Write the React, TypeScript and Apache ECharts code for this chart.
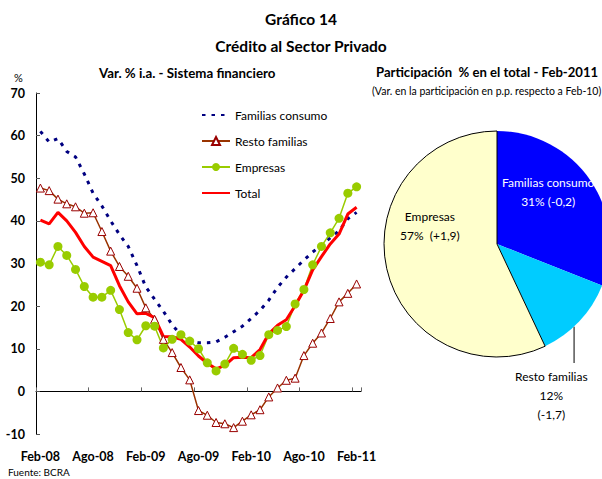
import React, { useEffect, useRef } from "react";
import * as echarts from "echarts";

const FONT = "Lato, 'Open Sans', 'DejaVu Sans', sans-serif";

const months = [
  "Feb-08", "Mar-08", "Abr-08", "May-08", "Jun-08", "Jul-08", "Ago-08", "Sep-08", "Oct-08", "Nov-08", "Dic-08", "Ene-09",
  "Feb-09", "Mar-09", "Abr-09", "May-09", "Jun-09", "Jul-09", "Ago-09", "Sep-09", "Oct-09", "Nov-09", "Dic-09", "Ene-10",
  "Feb-10", "Mar-10", "Abr-10", "May-10", "Jun-10", "Jul-10", "Ago-10", "Sep-10", "Oct-10", "Nov-10", "Dic-10", "Ene-11",
  "Feb-11",
];

const familiasConsumo = [
  61.0, 58.5, 59.3, 56.3, 55.0, 51.0, 46.5, 43.5, 40.0, 36.8, 34.0, 29.5,
  24.5, 21.6, 18.8, 15.6, 13.3, 11.8, 11.4, 11.4, 11.6, 12.7, 14.0, 15.3,
  17.1, 19.0, 21.4, 24.4, 26.8, 28.8, 30.8, 32.7, 34.3, 36.0, 37.7, 40.5,
  42.0,
];

const restoFamilias = [
  47.7, 47.1, 45.1, 44.0, 43.3, 41.8, 41.9, 37.5, 32.9, 29.3, 27.0, 24.2,
  19.6, 16.9, 12.2, 9.1, 5.6, 2.7, -4.5, -5.6, -7.3, -7.6, -8.5, -7.0,
  -5.5, -4.3, -1.3, 0.8, 2.6, 3.1, 8.4, 11.3, 13.7, 17.1, 21.0, 23.0,
  25.2,
];

const empresas = [
  30.3, 29.7, 34.0, 31.9, 28.6, 24.6, 22.1, 22.1, 23.7, 19.2, 13.8, 12.1,
  15.4, 15.3, 10.2, 12.2, 13.3, 11.8, 10.0, 6.7, 4.8, 6.4, 10.1, 8.7,
  7.3, 8.4, 13.3, 14.3, 15.2, 20.5, 23.9, 29.7, 34.0, 37.2, 40.6, 46.5,
  48.0,
];

const total = [
  40.2, 39.3, 42.0, 40.0, 37.3, 34.0, 31.5, 30.5, 29.5, 24.8, 21.0, 18.2,
  18.3, 17.3, 12.9, 12.8, 12.2, 10.4, 8.3, 6.6, 5.3, 6.1, 7.9, 8.0,
  7.9, 9.8, 13.5, 15.5, 16.8, 20.1, 23.7, 28.5, 31.6, 34.6, 36.9, 41.6,
  43.2,
];

const seriesNames = ["Familias consumo", "Resto familias", "Empresas", "Total"];

const pieKeys = ["Part. Familias consumo", "Part. Resto familias", "Part. Empresas"];
const pieValues = [31, 12, 57];
const pieLabels = ["Familias consumo\n31% (-0,2)", "Resto familias\n12%\n(-1,7)", "Empresas\n57%  (+1,9)"];

export default function App() {
  const ref = useRef<HTMLDivElement>(null);

  useEffect(() => {
    if (!ref.current) return;
    const chart = echarts.init(ref.current, null, { renderer: "svg" });

    const pieCx = 497;
    const pieCy = 244;
    const pieR = 113;
    const leaderAngle = (137 * Math.PI) / 180;
    const lx = pieCx + pieR * Math.sin(leaderAngle);
    const ly0 = pieCy - pieR * Math.cos(leaderAngle);

    const pieColors = ["#0000FF", "#00CCFF", "#FFFFCC"];
    const pieLabelColors = ["#FFFFFF", "#000000", "#000000"];
    const pieOffsets = [[2, -19], [11, 111], [-9, -31]];

    const option: any = {
      animation: false,
      backgroundColor: "#FFFFFF",
      textStyle: { fontFamily: FONT },
      title: [
        { text: "Gráfico 14", left: "center", top: 11, padding: 0, textStyle: { fontSize: 15.5, fontWeight: "bold", color: "#000", fontFamily: FONT } },
        { text: "Crédito al Sector Privado", left: "center", top: 38, padding: 0, textStyle: { fontSize: 15.5, fontWeight: "bold", color: "#000", fontFamily: FONT } },
        { text: "Var. % i.a. - Sistema financiero", left: 99, top: 66, padding: 0, textStyle: { fontSize: 13.3, fontWeight: "bold", color: "#000", fontFamily: FONT } },
        { text: "Participación  % en el total - Feb-2011", left: 376, top: 65, padding: 0, textStyle: { fontSize: 13.1, fontWeight: "bold", color: "#000", fontFamily: FONT } },
        { text: "(Var. en la participación en p.p. respecto a Feb-10)", left: 372, top: 85, padding: 0, textStyle: { fontSize: 10.5, fontWeight: "normal", color: "#000", fontFamily: FONT } },
        { text: "%", left: 14, top: 72, padding: 0, textStyle: { fontSize: 11, fontWeight: "normal", color: "#000", fontFamily: FONT } },
        { text: "Fuente: BCRA", left: 8, top: 467, padding: 0, textStyle: { fontSize: 10, fontWeight: "normal", color: "#000", fontFamily: FONT } },
      ],
      legend: {
        orient: "vertical",
        left: 196,
        top: 104,
        itemWidth: 28,
        itemHeight: 10,
        itemGap: 14,
        textStyle: { fontSize: 12, color: "#000", fontFamily: FONT },
        data: [
          { name: seriesNames[0], itemStyle: { opacity: 0 } },
          { name: seriesNames[1] },
          { name: seriesNames[2] },
          { name: seriesNames[3], itemStyle: { opacity: 0 } },
        ],
      },
      grid: { left: 36, right: 241, top: 93, bottom: 45, containLabel: false, outerBoundsMode: "none" },
      xAxis: {
        type: "category",
        data: months,
        boundaryGap: true,
        axisLine: { show: true, onZero: true, lineStyle: { color: "#000", width: 1 } },
        axisTick: { show: true, inside: true, length: 4, interval: 5, lineStyle: { color: "#666" } },
        axisLabel: { interval: 5, margin: 16, fontWeight: "bold", fontSize: 12.5, color: "#000", fontFamily: FONT },
        splitLine: { show: false },
      },
      yAxis: {
        type: "value",
        min: -10,
        max: 70,
        interval: 10,
        axisLine: { show: true, lineStyle: { color: "#000", width: 1 } },
        axisTick: { show: true, inside: true, length: 4, lineStyle: { color: "#555" } },
        axisLabel: { margin: 11, fontWeight: "bold", fontSize: 12.5, color: "#000", fontFamily: FONT },
        splitLine: { show: false },
      },
      graphic: [
        { type: "line", shape: { x1: lx, y1: ly0, x2: lx, y2: 363 }, style: { stroke: "#000", lineWidth: 1 }, silent: true },
      ],
      series: [
        {
          name: seriesNames[0],
          type: "line",
          data: familiasConsumo,
          symbol: "none",
          color: "#000080",
          lineStyle: { color: "#000080", width: 3, type: [3.5, 6], cap: "butt" },
        },
        {
          name: seriesNames[1],
          type: "line",
          data: restoFamilias,
          symbol: "triangle",
          symbolSize: 8,
          showAllSymbol: true,
          color: "#993300",
          lineStyle: { color: "#993300", width: 1.5 },
          itemStyle: { color: "#FFFFFF", borderColor: "#990000", borderWidth: 1 },
        },
        {
          name: seriesNames[2],
          type: "line",
          data: empresas,
          symbol: "circle",
          symbolSize: 9,
          showAllSymbol: true,
          color: "#99CC00",
          lineStyle: { color: "#99CC00", width: 1.5 },
          itemStyle: { color: "#99CC00" },
        },
        {
          name: seriesNames[3],
          type: "line",
          data: total,
          symbol: "none",
          color: "#FF0000",
          lineStyle: { color: "#FF0000", width: 3 },
        },
        {
          type: "pie",
          center: [pieCx, pieCy],
          radius: pieR,
          startAngle: 90,
          clockwise: true,
          silent: true,
          label: { show: true, position: "inside", fontSize: 12, lineHeight: 19, fontFamily: FONT },
          labelLine: { show: false },
          data: pieKeys.map((k, i) => ({
            name: k,
            value: pieValues[i],
            itemStyle: {
              color: pieColors[i],
              borderColor: i === 2 ? "#000" : pieColors[i],
              borderWidth: i === 2 ? 1 : 0,
            },
            label: { formatter: pieLabels[i], color: pieLabelColors[i], offset: pieOffsets[i] },
          })),
        },
      ],
    };

    chart.setOption(option);
    return () => chart.dispose();
  }, []);

  return (
    <div
      ref={ref}
      style={{ position: "fixed", left: 0, top: 0, width: 602, height: 479, background: "#fff" }}
    />
  );
}
